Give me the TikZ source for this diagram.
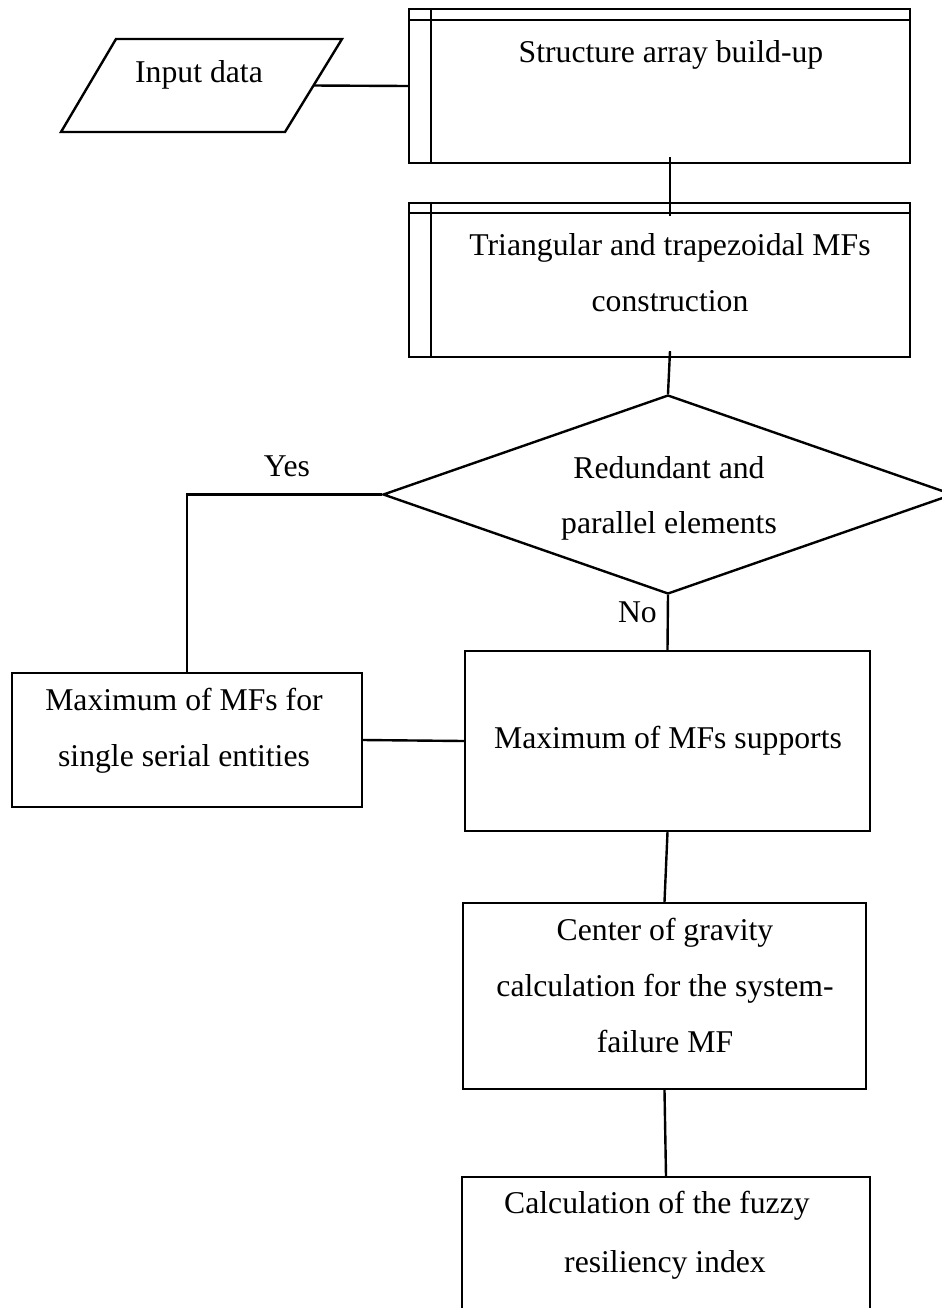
\documentclass[tikz,border=0pt]{standalone}
\usepackage{fontspec}
\setmainfont{Liberation Serif}
\usetikzlibrary{shapes.geometric,fit,calc}
\begin{document}
\begin{tikzpicture}[x=0.5pt,y=-0.5pt,line width=1.2pt,
  box/.style={draw,rectangle,inner sep=0pt},
  txt/.style={inner sep=0pt,anchor=base,font=\fontsize{15.85}{19}\selectfont},
  link/.style={draw,line width=1.2pt}]
\clip (0,0) rectangle (942,1308);

% input parallelogram
\draw (116,39) -- (342,39) -- (285,132) -- (61,132) -- cycle;
\coordinate (inR) at (313.5,85.5);
\node[txt] (tin) at (199,82) {Input data};

% predefined process: structure array
\node[box,fit={(409,9) (910,163)}] (b1) {};
\draw ($(b1.north west)+(0,12)$) -- ($(b1.north east)+(0,12)$);
\draw ($(b1.north west)+(23,0)$) -- ($(b1.south west)+(23,0)$);
\node[txt] (t1) at (671,62) {Structure array build-up};

% predefined process: MF construction
\node[box,fit={(409,203) (910,357)}] (b2) {};
\draw ($(b2.north west)+(0,11)$) -- ($(b2.north east)+(0,11)$);
\draw ($(b2.north west)+(23,0)$) -- ($(b2.south west)+(23,0)$);
\node[txt] (t2a) at (670,255) {Triangular and trapezoidal MFs};
\node[txt] (t2b) at (670,311) {construction};

% decision
\node[draw,diamond,inner sep=0pt,minimum width=285pt,minimum height=99.5pt] (d) at (668,494.5) {};
\node[txt] (tda) at (669,478) {Redundant and};
\node[txt] (tdb) at (669,533) {parallel elements};

% process boxes
\node[box,fit={(12,673) (362,807)}] (b3) {};
\node[txt] (t3a) at (184,710) {Maximum of MFs for};
\node[txt] (t3b) at (184,766) {single serial entities};

\node[box,fit={(465,651) (870,831)}] (b4) {};
\node[txt] (t4) at (668,748) {Maximum of MFs supports};

\node[box,fit={(463,903) (866,1089)}] (b5) {};
\node[txt] (t5a) at (665,940) {Center of gravity};
\node[txt] (t5b) at (665,996) {calculation for the system-};
\node[txt] (t5c) at (665,1052) {failure MF};

\node[box,fit={(462,1177) (870,1340)}] (b6) {};
\node[txt,anchor=base west] (t6a) at (503,1213) {Calculation of the fuzzy};
\node[txt,anchor=base west] (t6b) at (563,1272) {resiliency index};

% branch labels
\node[txt] (yes) at (287,476) {Yes};
\node[txt,anchor=base east] (no) at (658,622) {No};

% connectors
\path[link] (inR) -- (b1.west);
\path[link] ($(b1.south)+(10.5,-7)$) -- ($(b2.north)+(10.5,14)$);
\path[link] ($(b2.south)+(10.5,-7)$) -- (d.north);
\path[link] (d.west) -| (b3.north);
\path[link] (d.south) -- (b4.north);
\path[link] (b3.east) -- (b4.west);
\path[link] (b4.south) -- (b5.north);
\path[link] (b5.south) -- (b6.north);
\end{tikzpicture}
\end{document}
